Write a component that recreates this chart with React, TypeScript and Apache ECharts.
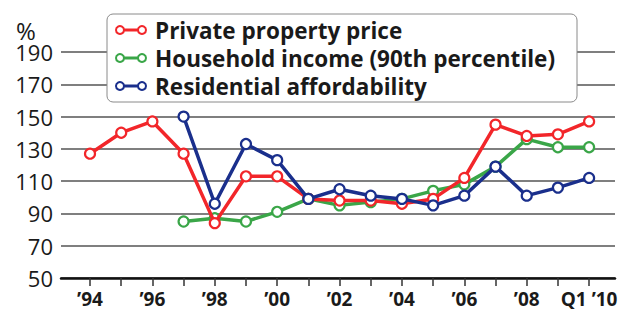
import React, { useEffect, useRef } from "react";
import * as echarts from "echarts";

const xLabels = ["’94","’95","’96","’97","’98","’99","’00","’01","’02","’03","’04","’05","’06","’07","’08","’09","Q1 ’10"];
const privatePrice = [127, 140, 147, 127, 84, 113, 113, 99, 98, 98, 96, 99, 112, 145, 138, 139, 147];
const householdIncome = [null, null, null, 85, 87, 85, 91, 99, 95, 97, 99, 104, 108, 119, 136, 131, 131];
const affordability = [null, null, null, 150, 96, 133, 123, 99, 105, 101, 99, 95, 101, 119, 101, 106, 112];
const seriesNames = ["Private property price", "Household income (90th percentile)", "Residential affordability"];
const yTicks = [50, 70, 90, 110, 130, 150, 170, 190];

const RED = "#f2262a";
const GREEN = "#3aa648";
const BLUE = "#1a2f8c";

function toPairs(arr: (number | null)[]) {
  return arr.map((v, i) => [i, v]).filter((p) => p[1] !== null);
}

export default function App() {
  const ref = useRef<HTMLDivElement>(null);
  useEffect(() => {
    if (!ref.current) return;
    const chart = echarts.init(ref.current, null, { renderer: "svg" });
    const font = "'Open Sans', 'DejaVu Sans', sans-serif";
    const mkSeries = (name: string, data: (number | null)[], color: string, z: number) => ({
      name,
      type: "line",
      data: toPairs(data),
      symbol: "circle",
      symbolSize: 10,
      z,
      lineStyle: { color, width: 3.5 },
      itemStyle: { color: "#fff", borderColor: color, borderWidth: 2.2 },
    });
    const legendRows = [
      { name: seriesNames[0], color: RED },
      { name: seriesNames[1], color: GREEN },
      { name: seriesNames[2], color: BLUE },
    ];
    const legendGraphics: any[] = [
      {
        type: "rect",
        shape: { x: 107, y: 14, width: 470, height: 88, r: 6 },
        style: { fill: "#fff", stroke: "#8a8a8a", lineWidth: 1 },
        z: 100,
      },
    ];
    legendRows.forEach((r, i) => {
      const cy = 30 + i * 28;
      legendGraphics.push(
        { type: "line", shape: { x1: 120, y1: cy, x2: 142, y2: cy }, style: { stroke: r.color, lineWidth: 3 }, z: 101 },
        { type: "circle", shape: { cx: 120, cy, r: 4 }, style: { fill: "#fff", stroke: r.color, lineWidth: 2 }, z: 102 },
        { type: "circle", shape: { cx: 142, cy, r: 4 }, style: { fill: "#fff", stroke: r.color, lineWidth: 2 }, z: 102 },
        {
          type: "text",
          x: 155,
          y: cy,
          style: { text: r.name, fill: "#1a1a1a", font: `bold 22.5px ${font}`, verticalAlign: "middle" },
          z: 102,
        }
      );
    });
    legendGraphics.push({
      type: "text",
      left: 16,
      top: 18,
      style: { text: "%", fill: "#1a1a1a", font: `normal 24px ${font}` },
      z: 100,
    });
    chart.setOption({
      animation: false,
      backgroundColor: "#fff",
      grid: { left: 61, right: 6, top: 52, bottom: 41 },
      xAxis: {
        type: "value",
        min: -0.93,
        max: 16.83,
        axisLine: { show: true, onZero: false, lineStyle: { color: "#111", width: 2.5 } },
        axisTick: { show: true, customValues: xLabels.map((_, i) => i), length: 8, lineStyle: { color: "#333", width: 1.5 } },
        axisLabel: {
          customValues: xLabels.map((_, i) => i).filter((i) => i % 2 === 0),
          formatter: (v: number) => xLabels[Math.round(v)] ?? "",
          fontFamily: font,
          fontWeight: "bold",
          fontSize: 19,
          color: "#1a1a1a",
          margin: 11,
        },
        splitLine: { show: false },
      },
      yAxis: {
        type: "value",
        min: 50,
        max: 190,
        interval: 20,
        axisLine: { show: false },
        axisTick: { show: false },
        axisLabel: { fontFamily: font, fontSize: 22, color: "#1a1a1a", margin: 8, customValues: yTicks },
        splitLine: { show: true, lineStyle: { color: "#555", width: 1.5 } },
      },
      graphic: legendGraphics,
      series: [
        mkSeries(seriesNames[1], householdIncome, GREEN, 2),
        mkSeries(seriesNames[0], privatePrice, RED, 3),
        mkSeries(seriesNames[2], affordability, BLUE, 4),
      ],
    });
    return () => chart.dispose();
  }, []);
  return <div ref={ref} style={{ position: "fixed", left: 0, top: 0, width: 621, height: 319 }} />;
}
